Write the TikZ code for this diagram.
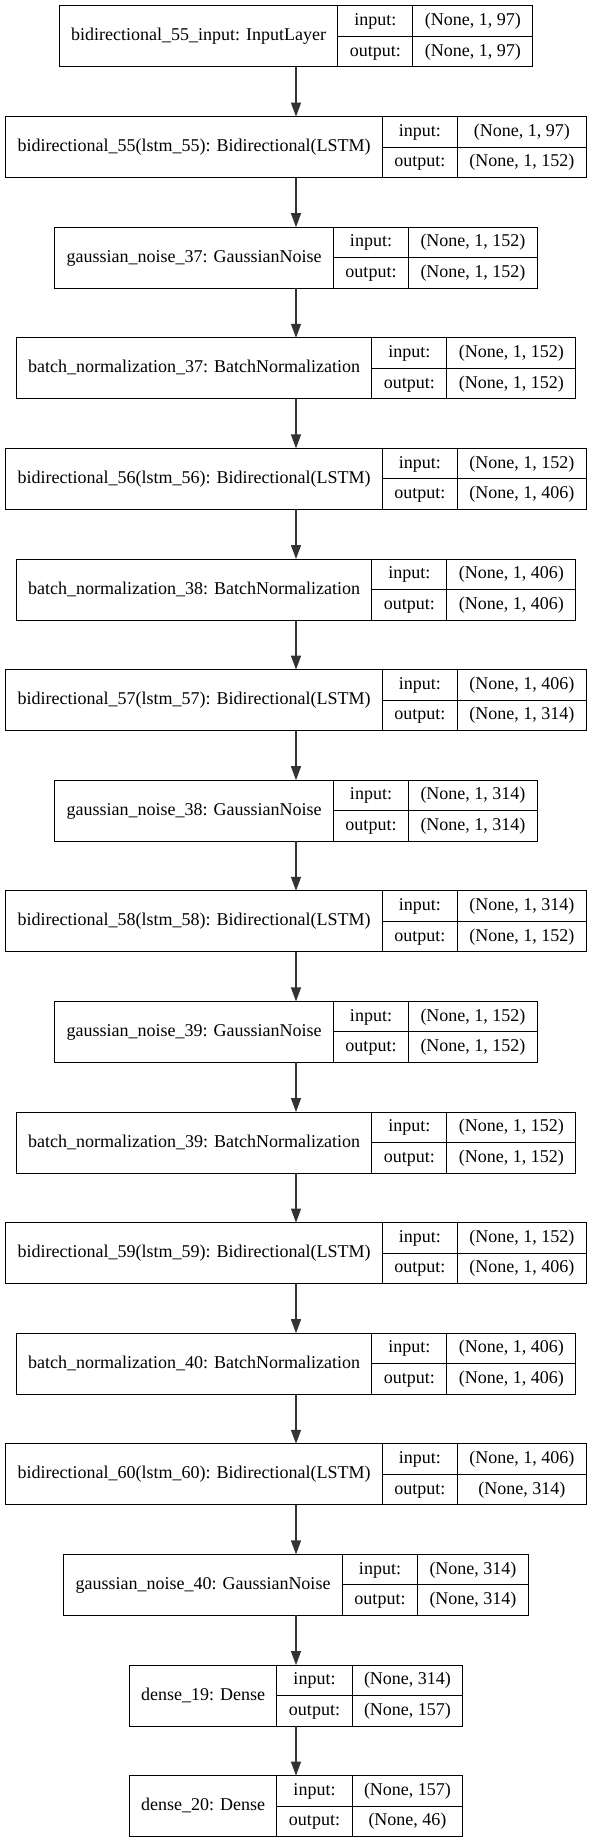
\documentclass[tikz,border=0pt]{standalone}
\usepackage{fontspec}
\setmainfont{Liberation Serif}
\usetikzlibrary{arrows.meta}
\newcommand\layerfont{\fontsize{18}{21}\selectfont}
\newdimen\lblwd
\newdimen\valwd
\newdimen\tmpwd
\newdimen\keywd
\newsavebox\measurebox
\newcommand\measure[2]{\sbox\measurebox{\pgfinterruptpicture\layerfont#2\endpgfinterruptpicture}#1=\wd\measurebox}
\begin{document}
\begin{tikzpicture}[x=1pt,y=-1pt,
        cell/.style={draw, line width=1pt, outer sep=0pt, inner sep=0pt, font=\layerfont, text height=13pt, text depth=4pt},
        flow/.style={draw=black!80, line width=1.3pt, -{Triangle[length=14pt,width=10pt]}}]
    \useasboundingbox (0,0) rectangle (592,1844);
    \measure{\global\keywd}{output:}
    \foreach \nm/\lbl/\vin/\vout [count=\i from 0, remember=\nm as \prev (initially inp)] in {
        inp/{bidirectional\_55\_input: InputLayer}/{(None, 1, 97)}/{(None, 1, 97)},
        bi55/{bidirectional\_55(lstm\_55): Bidirectional(LSTM)}/{(None, 1, 97)}/{(None, 1, 152)},
        gn37/{gaussian\_noise\_37: GaussianNoise}/{(None, 1, 152)}/{(None, 1, 152)},
        bn37/{batch\_normalization\_37: BatchNormalization}/{(None, 1, 152)}/{(None, 1, 152)},
        bi56/{bidirectional\_56(lstm\_56): Bidirectional(LSTM)}/{(None, 1, 152)}/{(None, 1, 406)},
        bn38/{batch\_normalization\_38: BatchNormalization}/{(None, 1, 406)}/{(None, 1, 406)},
        bi57/{bidirectional\_57(lstm\_57): Bidirectional(LSTM)}/{(None, 1, 406)}/{(None, 1, 314)},
        gn38/{gaussian\_noise\_38: GaussianNoise}/{(None, 1, 314)}/{(None, 1, 314)},
        bi58/{bidirectional\_58(lstm\_58): Bidirectional(LSTM)}/{(None, 1, 314)}/{(None, 1, 152)},
        gn39/{gaussian\_noise\_39: GaussianNoise}/{(None, 1, 152)}/{(None, 1, 152)},
        bn39/{batch\_normalization\_39: BatchNormalization}/{(None, 1, 152)}/{(None, 1, 152)},
        bi59/{bidirectional\_59(lstm\_59): Bidirectional(LSTM)}/{(None, 1, 152)}/{(None, 1, 406)},
        bn40/{batch\_normalization\_40: BatchNormalization}/{(None, 1, 406)}/{(None, 1, 406)},
        bi60/{bidirectional\_60(lstm\_60): Bidirectional(LSTM)}/{(None, 1, 406)}/{(None, 314)},
        gn40/{gaussian\_noise\_40: GaussianNoise}/{(None, 314)}/{(None, 314)},
        d19/{dense\_19: Dense}/{(None, 314)}/{(None, 157)},
        d20/{dense\_20: Dense}/{(None, 157)}/{(None, 46)}} {
        % cell widths from the texts
        \measure{\lblwd}{\lbl}
        \measure{\valwd}{\vin}
        \measure{\tmpwd}{\vout}
        \ifdim\tmpwd>\valwd \valwd=\tmpwd \fi
        \pgfmathsetmacro\lblw{\lblwd+24}
        \pgfmathsetmacro\keyw{\keywd+24}
        \pgfmathsetmacro\valw{\valwd+24}
        \pgfmathsetmacro\xleft{296-(\lblw+\keyw+\valw)/2}
        \pgfmathsetmacro\ymid{36.5+110.6*\i}
        \node[cell, minimum width=\lblw pt, minimum height=61pt] (\nm) at (\xleft+\lblw/2,\ymid) {\lbl};
        \node[cell, minimum width=\keyw pt, minimum height=30.5pt, anchor=north west] (\nm-ki) at (\nm.north east) {input:};
        \node[cell, minimum width=\keyw pt, minimum height=30.5pt, anchor=north west] (\nm-ko) at (\nm-ki.south west) {output:};
        \node[cell, minimum width=\valw pt, minimum height=30.5pt, anchor=north west] (\nm-vi) at (\nm-ki.north east) {\vin};
        \node[cell, minimum width=\valw pt, minimum height=30.5pt, anchor=north west] (\nm-vo) at (\nm-vi.south west) {\vout};
        \coordinate (\nm-top) at (296,\ymid-30.5);
        \coordinate (\nm-bot) at (296,\ymid+30.5);
        \ifnum\i>0 \draw[flow] (\prev-bot) -- (\nm-top); \fi
    }
\end{tikzpicture}
\end{document}
